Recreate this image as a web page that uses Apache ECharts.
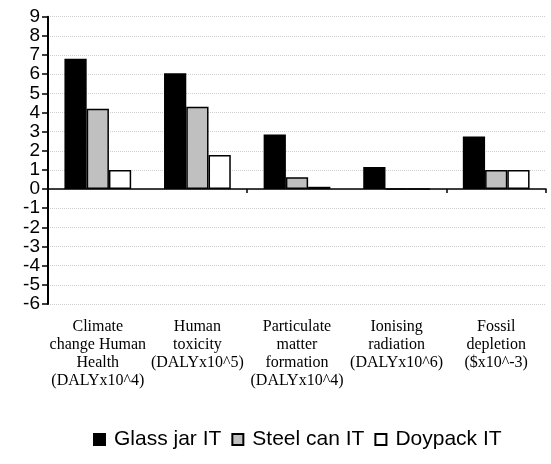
<!DOCTYPE html>
<html>
<head>
<meta charset="utf-8">
<script src="https://cdn.jsdelivr.net/npm/echarts@6/dist/echarts.min.js"></script>
<style>
html,body{margin:0;padding:0;background:#fff;}
#chart{width:551px;height:464px;}
</style>
</head>
<body>
<div id="chart"></div>
<script>
var categories = [
  "Climate\nchange Human\nHealth\n(DALYx10^4)",
  "Human\ntoxicity\n(DALYx10^5)",
  "Particulate\nmatter\nformation\n(DALYx10^4)",
  "Ionising\nradiation\n(DALYx10^6)",
  "Fossil\ndepletion\n($x10^-3)"
];
var seriesNames = ["Glass jar IT", "Steel can IT", "Doypack IT"];
var glassJar = [6.8, 6.05, 2.85, 1.15, 2.75];
var steelCan = [4.2, 4.3, 0.62, 0, 1.0];
var doypack = [1.0, 1.78, 0.12, 0, 1.0];
var yTicks = { min: -6, max: 9, interval: 1 };

var chart = echarts.init(document.getElementById('chart'));
var barBase = { type: 'bar', barGap: '0%', barCategoryGap: '33%', xAxisIndex: 0 };
chart.setOption({
  animation: false,
  backgroundColor: '#fff',
  grid: { left: 48, right: 5, top: 16.7, bottom: 160, containLabel: false },
  legend: {
    data: seriesNames,
    top: 424,
    left: 88,
    icon: 'rect',
    itemWidth: 11,
    itemHeight: 11,
    itemGap: 10,
    textStyle: { fontFamily: 'Liberation Sans, Arial', fontSize: 21, color: '#000', padding: [0,0,0,4] }
  },
  xAxis: [
    {
      type: 'category', data: categories,
      axisLine: { onZero: true, lineStyle: { color: '#000', width: 1.5 } },
      axisTick: { show: true, length: 4, lineStyle: { color: '#000', width: 1.5 } },
      axisLabel: { show: false },
      splitLine: { show: false }
    },
    {
      type: 'category', data: categories, position: 'bottom',
      axisLine: { show: false, onZero: false },
      axisTick: { show: false },
      axisLabel: {
        interval: 0, margin: 14,
        fontFamily: 'Liberation Serif, Times New Roman', fontSize: 16, lineHeight: 18, color: '#000', align: 'center'
      }
    }
  ],
  yAxis: {
    type: 'value', min: yTicks.min, max: yTicks.max, interval: yTicks.interval,
    axisLine: { show: true, lineStyle: { color: '#000', width: 2 } },
    axisTick: { show: true, length: 6, lineStyle: { color: '#000', width: 1.5 } },
    axisLabel: { fontFamily: 'Liberation Sans, Arial', fontSize: 19, color: '#000', margin: 8 },
    splitLine: { show: true, lineStyle: { color: '#cfcfcf', type: 'dotted', width: 1 } }
  },
  series: [
    Object.assign({}, barBase, { name: seriesNames[0], data: glassJar,
      itemStyle: { color: '#000', borderColor: '#000', borderWidth: 1.5 } }),
    Object.assign({}, barBase, { name: seriesNames[1], data: steelCan,
      itemStyle: { color: '#c0c0c0', borderColor: '#000', borderWidth: 1.5 } }),
    Object.assign({}, barBase, { name: seriesNames[2], data: doypack,
      itemStyle: { color: '#fff', borderColor: '#000', borderWidth: 1.5 } })
  ]
});
</script>
</body>
</html>
